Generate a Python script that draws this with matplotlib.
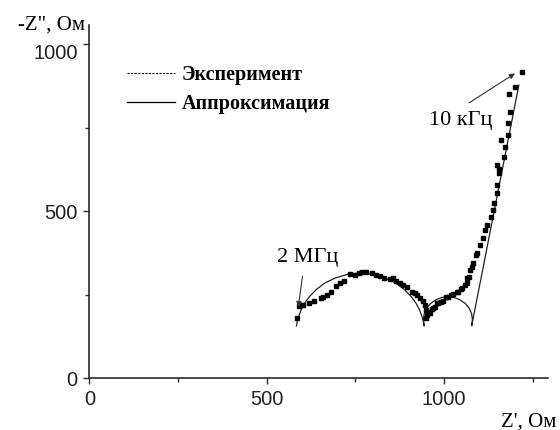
import matplotlib
matplotlib.use("Agg")
import matplotlib.pyplot as plt
from matplotlib.lines import Line2D
from matplotlib.ticker import MultipleLocator

plt.rcParams["font.family"] = ["Liberation Serif", "DejaVu Serif"]

# experimental points: Z' and -Z'' (Ohm), high frequency -> low frequency
exp_re = [586, 590, 595, 603, 620, 633, 652, 660, 671, 680, 695, 707, 718, 735, 749,
          760, 768, 780, 796, 808, 819, 831, 847, 855, 866, 876, 885, 895, 909, 918,
          925, 932, 940, 946, 949, 953, 948, 955, 960, 965, 970, 974, 979, 984, 992,
          998, 1007, 1012, 1020, 1026, 1036, 1040, 1048, 1052, 1059, 1064, 1065, 1071,
          1073, 1078, 1082, 1090, 1092, 1101, 1111, 1115, 1122, 1132, 1137, 1141, 1148,
          1148, 1156, 1156, 1148, 1169, 1172, 1162, 1181, 1181, 1186, 1184, 1200, 1219]
exp_im = [180, 218, 219, 221, 226, 232, 240, 244, 249, 258, 275, 286, 291, 312, 309,
          315, 319, 319, 314, 310, 306, 299, 296, 299, 292, 286, 279, 272, 259, 254,
          248, 240, 232, 219, 204, 190, 180, 200, 196, 207, 210, 214, 225, 225, 230,
          231, 244, 242, 248, 252, 259, 259, 266, 269, 279, 284, 299, 304, 324, 334,
          344, 369, 374, 399, 419, 444, 459, 484, 504, 524, 554, 579, 614, 626, 639,
          663, 693, 713, 728, 765, 798, 851, 873, 918]

# approximation curve (two arcs + straight line)
fit_re = [584, 586, 590, 597, 607, 620, 640, 665, 695, 730, 764, 798, 833, 863, 888,
          908, 921, 931, 938, 942, 944,
          942, 944, 951, 962, 977, 993, 1011, 1029, 1045, 1060, 1071, 1078, 1080, 1078,
          1211]
fit_im = [157, 169, 185, 205, 225, 244, 266, 286, 301, 312, 315, 312, 301, 286, 266,
          244, 225, 205, 185, 169, 157,
          175, 193, 210, 224, 235, 242, 244, 242, 235, 224, 210, 193, 175, 157,
          878]

legend_labels = ["Эксперимент", "Аппроксимация"]

fig = plt.figure(figsize=(5.6, 4.3), dpi=100)
ax = fig.add_axes([0.1595, 0.1202, 0.8196, 0.8217])

ax.plot(fit_re, fit_im, color="#222222", lw=0.9, clip_on=False)
ax.plot(exp_re, exp_im, ls="none", marker="s", ms=3.0, color="black", clip_on=False)

ax.set_xlim(0, 1294)
ax.set_ylim(0, 1058)

for side in ["top", "right"]:
    ax.spines[side].set_visible(False)
for side in ["left", "bottom"]:
    ax.spines[side].set_linewidth(1.2)
    ax.spines[side].set_color("#2a2a2a")

ax.set_xticks([0, 500, 1000], labels=["0", "500", "1000"], fontfamily="Liberation Sans")
ax.set_yticks([0, 500, 1000], labels=["0", "500", "1000"], fontfamily="Liberation Sans")
ax.xaxis.set_minor_locator(MultipleLocator(250))
ax.yaxis.set_minor_locator(MultipleLocator(250))
ax.tick_params(which="major", direction="out", length=4.5, width=1.0, pad=4,
               labelsize=14.5, color="#2a2a2a", labelcolor="#222222")
ax.tick_params(which="minor", direction="out", length=3, width=1.0, color="#2a2a2a")
ax.get_yticklabels()[2].set_va("top")

fig.text(85 / 560, 1 - 25 / 430, '-Z", Ом', ha="right", va="center", fontsize=15)
fig.text(556 / 560, 1 - 422 / 430, "Z', Ом", ha="right", va="center", fontsize=15)

arrow = dict(arrowstyle="-|>", color="#333333", lw=0.8, mutation_scale=8,
             shrinkA=0, shrinkB=0)
ax.annotate("", xy=(589, 213), xytext=(601, 306), arrowprops=arrow, annotation_clip=False)
ax.text(616, 361, "2 МГц", ha="center", va="center", fontsize=16)
ax.annotate("", xy=(1200, 913), xytext=(1071, 825), arrowprops=arrow, annotation_clip=False)
ax.text(1047, 773, "10 кГц", ha="center", va="center", fontsize=16)

handles = [Line2D([], [], color="black", lw=0.8, ls=(0, (2, 1.2))),
           Line2D([], [], color="black", lw=0.9)]
ax.legend(handles, legend_labels, loc="upper left",
          bbox_to_anchor=(127 / 560, 1 - 65 / 430), bbox_transform=fig.transFigure,
          frameon=False, borderpad=0, borderaxespad=0, handlelength=2.4,
          handletextpad=0.3, labelspacing=0.45,
          prop=dict(family="Liberation Serif", weight="bold", size=14.5))

fig.savefig("out.png", dpi=100)
